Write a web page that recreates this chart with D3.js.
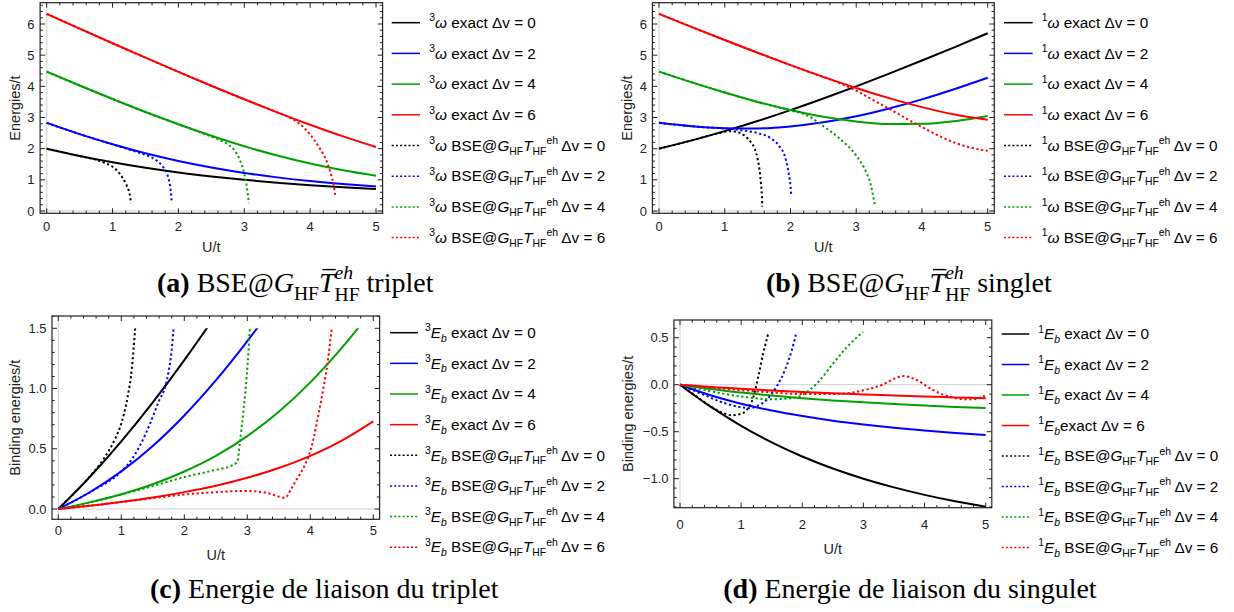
<!DOCTYPE html>
<html><head><meta charset="utf-8">
<script src="https://cdn.jsdelivr.net/npm/d3@7"></script>
<style>body{margin:0;background:#fff} svg text{white-space:pre}</style>
</head><body>
<svg id="chart" width="1234" height="612"></svg>
<script>
// ---------------- DATA ----------------
const dvValues = ["0", "2", "4", "6"];
const seriesColors = ["#000000", "#0000ff", "#00a000", "#ff0000"];
const U = [0, 0.5, 1, 1.5, 2, 2.5, 3, 3.5, 4, 4.5, 5];

// (a) triplet excitation energies, exact
const tripExact0 = [2.0, 1.766, 1.562, 1.386, 1.236, 1.109, 1.0, 0.908, 0.828, 0.760, 0.702];
const tripExact2 = [2.828, 2.467, 2.140, 1.851, 1.604, 1.395, 1.221, 1.079, 0.961, 0.865, 0.785];
const tripExact4 = [4.472, 4.027, 3.595, 3.178, 2.783, 2.413, 2.077, 1.779, 1.523, 1.309, 1.134];
const tripExact6 = [6.325, 5.852, 5.383, 4.920, 4.465, 4.018, 3.584, 3.165, 2.766, 2.393, 2.053];
// (a) triplet BSE
const tripBSE0U = [0, 0.25, 0.5, 0.75, 0.9, 1.0, 1.1, 1.2, 1.25, 1.27, 1.28];
const tripBSE0 = [2.0, 1.88, 1.766, 1.64, 1.53, 1.42, 1.22, 0.88, 0.62, 0.42, 0.25];
const tripBSE2U = [0, 0.5, 1.0, 1.3, 1.5, 1.65, 1.75, 1.82, 1.86, 1.885, 1.9];
const tripBSE2 = [2.828, 2.467, 2.14, 1.94, 1.80, 1.65, 1.46, 1.22, 0.96, 0.62, 0.26];
const tripBSE4U = [0, 0.5, 1, 1.5, 2, 2.4, 2.6, 2.75, 2.85, 2.93, 3.0, 3.04, 3.07];
const tripBSE4 = [4.472, 4.027, 3.595, 3.178, 2.783, 2.47, 2.30, 2.14, 1.95, 1.65, 1.2, 0.75, 0.25];
const tripBSE6U = [0, 1, 2, 3, 3.5, 3.7, 3.85, 4.0, 4.15, 4.25, 4.32, 4.36, 4.385];
const tripBSE6 = [6.325, 5.383, 4.465, 3.584, 3.165, 2.99, 2.78, 2.45, 2.0, 1.6, 1.15, 0.8, 0.45];

// (b) singlet excitation energies, exact
const singExact0 = [2.0, 2.266, 2.562, 2.886, 3.236, 3.609, 4.0, 4.408, 4.828, 5.260, 5.702];
const singExact2 = [2.828, 2.718, 2.654, 2.649, 2.714, 2.845, 3.038, 3.289, 3.582, 3.915, 4.277];
const singExact4 = [4.472, 4.128, 3.802, 3.500, 3.238, 3.021, 2.870, 2.792, 2.796, 2.883, 3.045];
const singExact6 = [6.325, 5.902, 5.485, 5.077, 4.682, 4.303, 3.947, 3.621, 3.333, 3.096, 2.925];
// (b) singlet BSE
const singBSE0U = [0, 0.5, 0.8, 1.0, 1.1, 1.2, 1.3, 1.4, 1.46, 1.5, 1.53, 1.55, 1.565, 1.572];
const singBSE0 = [2.0, 2.266, 2.44, 2.54, 2.56, 2.53, 2.42, 2.2, 1.98, 1.68, 1.3, 0.9, 0.5, 0.14];
const singBSE2U = [0, 0.5, 1.0, 1.25, 1.5, 1.7, 1.83, 1.92, 1.97, 2.0, 2.012];
const singBSE2 = [2.828, 2.718, 2.645, 2.59, 2.5, 2.33, 2.08, 1.72, 1.25, 0.8, 0.48];
const singBSE4U = [0, 1, 1.5, 2.0, 2.25, 2.5, 2.75, 3.0, 3.15, 3.22, 3.26, 3.28];
const singBSE4 = [4.472, 3.802, 3.5, 3.225, 3.07, 2.72, 2.32, 1.78, 1.25, 0.85, 0.45, 0.22];
const singBSE6U = [0, 1, 2, 2.5, 2.75, 3.0, 3.25, 3.5, 3.75, 4.0, 4.25, 4.5, 4.75, 5.0];
const singBSE6 = [6.325, 5.485, 4.682, 4.30, 4.10, 3.86, 3.57, 3.28, 2.98, 2.69, 2.42, 2.19, 2.03, 1.93];

// (c) triplet binding energies, exact
const tripEb0 = [0, 0.266, 0.562, 0.886, 1.236, 1.609, 2.0, 2.408, 2.828, 3.260, 3.702];
const tripEb2 = [0, 0.139, 0.312, 0.523, 0.776, 1.067, 1.393, 1.751, 2.133, 2.537, 2.957];
const tripEb4 = [0, 0.055, 0.123, 0.206, 0.311, 0.441, 0.605, 0.807, 1.051, 1.337, 1.662];
const tripEb6 = [0, 0.027, 0.058, 0.095, 0.140, 0.193, 0.259, 0.340, 0.441, 0.568, 0.728];
// (c) triplet binding energies, BSE
const tripEbBSE0U = [0, 0.25, 0.5, 0.75, 0.9, 1.0, 1.1, 1.17, 1.22];
const tripEbBSE0 = [0, 0.13, 0.27, 0.44, 0.58, 0.71, 0.93, 1.18, 1.5];
const tripEbBSE2U = [0, 0.5, 1.0, 1.15, 1.3, 1.45, 1.6, 1.7, 1.75, 1.8, 1.83];
const tripEbBSE2 = [0, 0.139, 0.312, 0.40, 0.53, 0.70, 0.90, 1.02, 1.14, 1.32, 1.5];
const tripEbBSE4U = [0, 0.5, 1.0, 1.5, 2.0, 2.5, 2.75, 2.84, 2.88, 2.94, 2.99, 3.02, 3.04];
const tripEbBSE4 = [0, 0.055, 0.12, 0.19, 0.265, 0.325, 0.36, 0.39, 0.545, 0.82, 1.10, 1.32, 1.5];
const tripEbBSE6U = [0, 0.5, 1, 1.5, 2, 2.5, 3, 3.3, 3.6, 3.7, 3.8, 3.9, 3.97, 4.05, 4.12, 4.2, 4.27, 4.34];
const tripEbBSE6 = [0, 0.027, 0.058, 0.09, 0.12, 0.14, 0.15, 0.135, 0.094, 0.17, 0.26, 0.35, 0.435, 0.58, 0.76, 0.98, 1.2, 1.5];

// (d) singlet binding energies, exact
const singEb0 = [0, -0.234, -0.438, -0.614, -0.764, -0.892, -1.0, -1.092, -1.172, -1.240, -1.298];
const singEb2 = [0, -0.112, -0.202, -0.275, -0.334, -0.383, -0.424, -0.459, -0.488, -0.513, -0.535];
const singEb4 = [0, -0.046, -0.084, -0.116, -0.144, -0.167, -0.188, -0.206, -0.222, -0.237, -0.249];
const singEb6 = [0, -0.024, -0.044, -0.062, -0.078, -0.092, -0.104, -0.116, -0.126, -0.135, -0.144];
// (d) singlet binding energies, BSE
const singEbBSE0U = [0, 0.3, 0.5, 0.7, 0.85, 1.0, 1.09, 1.2, 1.28, 1.36, 1.445];
const singEbBSE0 = [0, -0.14, -0.23, -0.30, -0.325, -0.31, -0.27, -0.13, 0.085, 0.33, 0.55];
const singEbBSE2U = [0, 0.4, 0.7, 1.0, 1.15, 1.25, 1.42, 1.58, 1.72, 1.83, 1.9];
const singEbBSE2 = [0, -0.11, -0.19, -0.24, -0.25, -0.23, -0.16, -0.02, 0.16, 0.37, 0.545];
const singEbBSE4U = [0, 0.5, 1.0, 1.5, 1.8, 2.0, 2.12, 2.24, 2.51, 2.73, 2.99];
const singEbBSE4 = [0, -0.07, -0.125, -0.155, -0.145, -0.11, -0.055, 0.014, 0.23, 0.40, 0.56];
const singEbBSE6U = [0, 0.5, 1.0, 1.5, 2.0, 2.5, 2.8, 3.0, 3.15, 3.33, 3.49, 3.66, 3.87, 4.14, 4.47, 4.74, 4.88, 4.95, 5.0];
const singEbBSE6 = [0, -0.03, -0.058, -0.083, -0.1, -0.1, -0.085, -0.06, -0.035, 0.005, 0.06, 0.092, 0.05, -0.057, -0.138, -0.156, -0.145, -0.12, -0.13];

// tick labels
const xTickLabels = ["0", "1", "2", "3", "4", "5"];
const yTickLabelsAB = ["0", "1", "2", "3", "4", "5", "6"];
const yTickLabelsC = ["0.0", "0.5", "1.0", "1.5"];
const yTickLabelsD = ["\u22121.0", "\u22120.5", "0.0", "0.5"];

// captions
const captionTexts = ["triplet", "singlet", "Energie de liaison du triplet", "Energie de liaison du singulet"];

// ---------------- DRAWING ----------------
const SANS = "'Liberation Sans', Arial, sans-serif";
const SERIF = "'Liberation Serif', 'Times New Roman', serif";
const svg = d3.select("#chart");

function layoutRuns(g, runs, fs, family) {
  let cx = 0, stackW = 0;
  runs.forEach(r => {
    const size = fs * (r.s || 1);
    const t = g.append("text").attr("x", cx).attr("y", (r.dy || 0) * fs)
      .attr("font-size", size).attr("font-family", family)
      .style("font-style", r.it ? "italic" : "normal")
      .style("font-weight", r.b ? "bold" : "normal")
      .attr("fill", "#000").text(r.t);
    const w = t.node().getComputedTextLength();
    if (r.over) {
      g.append("line").attr("x1", cx + w * 0.22).attr("x2", cx + w * 1.08)
        .attr("y1", -size * 0.8).attr("y2", -size * 0.8)
        .attr("stroke", "#000").attr("stroke-width", size * 0.05);
    }
    if (r.stack) { stackW = w; }
    else { cx += Math.max(w, stackW); stackW = 0; }
  });
  return cx;
}

const panels = [
  { // (a)
    xr: [46.7, 376], yd: [0, 6], yr: [211, 24], frame: {l: 40.1, r: 382.6, t: 2.7, b: 213.3},
    yMinor: 0.2, yMajor: 1, yTicks: [0, 1, 2, 3, 4, 5, 6], yLabels: yTickLabelsAB,
    ylab: "Energies/t", ylabX: 15, xlabY: 251.5, xTickY: 231, yTickX: 34.5,
    exact: [tripExact0, tripExact2, tripExact4, tripExact6].map(v => [U, v]),
    bse: [[tripBSE0U, tripBSE0], [tripBSE2U, tripBSE2], [tripBSE4U, tripBSE4], [tripBSE6U, tripBSE6]],
    clipTop: null,
    legend: {x1: 391.7, x2: 420, tx: 429.3, y0: 22.7, step: 30.7, spin: "3", sym: "w"}
  },
  { // (b)
    xr: [659, 987.7], yd: [0, 6], yr: [211, 24], frame: {l: 652.4, r: 994.3, t: 2.7, b: 213.3},
    yMinor: 0.2, yMajor: 1, yTicks: [0, 1, 2, 3, 4, 5, 6], yLabels: yTickLabelsAB,
    ylab: "Energies/t", ylabX: 626.7, xlabY: 251.5, xTickY: 231, yTickX: 647,
    exact: [singExact0, singExact2, singExact4, singExact6].map(v => [U, v]),
    bse: [[singBSE0U, singBSE0], [singBSE2U, singBSE2], [singBSE4U, singBSE4], [singBSE6U, singBSE6]],
    clipTop: null,
    legend: {x1: 1004, x2: 1032.7, tx: 1041.7, y0: 22.7, step: 30.7, spin: "1", sym: "w"}
  },
  { // (c)
    xr: [58.3, 373.3], yd: [0, 1.5], yr: [509, 328.3], frame: {l: 52, r: 379.6, t: 316, b: 519.3},
    yMinor: 0.1, yMajor: 0.5, yTicks: [0, 0.5, 1, 1.5], yLabels: yTickLabelsC,
    ylab: "Binding energies/t", ylabX: 15, xlabY: 559.5, xTickY: 535, yTickX: 46.5,
    exact: [tripEb0, tripEb2, tripEb4, tripEb6].map(v => [U, v]),
    bse: [[tripEbBSE0U, tripEbBSE0], [tripEbBSE2U, tripEbBSE2], [tripEbBSE4U, tripEbBSE4], [tripEbBSE6U, tripEbBSE6]],
    clipTop: 1.5,
    legend: {x1: 390, x2: 418, tx: 425, y0: 332.7, step: 30.65, spin: "3", sym: "E"}
  },
  { // (d)
    xr: [680, 985.7], yd: [0, 0.5], yr: [384.7, 337.7], frame: {l: 673.9, r: 991.8, t: 320, b: 507.7},
    yMinor: 0.1, yMajor: 0.5, yTicks: [-1, -0.5, 0, 0.5], yLabels: yTickLabelsD,
    ylab: "Binding energies/t", ylabX: 628.3, xlabY: 553.5, xTickY: 529, yTickX: 668.5,
    exact: [singEb0, singEb2, singEb4, singEb6].map(v => [U, v]),
    bse: [[singEbBSE0U, singEbBSE0], [singEbBSE2U, singEbBSE2], [singEbBSE4U, singEbBSE4], [singEbBSE6U, singEbBSE6]],
    clipTop: null,
    legend: {x1: 1001.7, x2: 1029.3, tx: 1038.3, y0: 334, step: 30.5, spin: "1", sym: "E", noSpaceLast: true}
  }
];

panels.forEach((p, pi) => {
  const xs = d3.scaleLinear().domain([0, 5]).range(p.xr);
  const ys = d3.scaleLinear().domain(p.yd).range(p.yr);
  const f = p.frame;
  const g = svg.append("g");

  // gray axes
  g.append("line").attr("x1", f.l).attr("x2", f.r).attr("y1", ys(0)).attr("y2", ys(0))
    .attr("stroke", "#d0d0d0").attr("stroke-width", 1);
  g.append("line").attr("x1", xs(0)).attr("x2", xs(0)).attr("y1", f.t).attr("y2", f.b)
    .attr("stroke", "#d0d0d0").attr("stroke-width", 1);

  // clip
  const cid = "clip" + pi;
  const topPx = p.clipTop != null ? ys(p.clipTop) : f.t;
  svg.append("clipPath").attr("id", cid).append("rect")
    .attr("x", f.l).attr("y", topPx).attr("width", f.r - f.l).attr("height", f.b - topPx);
  const plot = g.append("g").attr("clip-path", `url(#${cid})`);
  const line = d3.line().x(d => xs(d[0])).y(d => ys(d[1])).curve(d3.curveMonotoneX);

  p.exact.forEach((s, i) => {
    plot.append("path").datum(s[0].map((u, k) => [u, s[1][k]]))
      .attr("d", line).attr("fill", "none").attr("stroke", seriesColors[i]).attr("stroke-width", 2);
  });
  p.bse.forEach((s, i) => {
    plot.append("path").datum(s[0].map((u, k) => [u, s[1][k]]))
      .attr("d", line).attr("fill", "none").attr("stroke", seriesColors[i]).attr("stroke-width", 2)
      .attr("stroke-dasharray", "2.2,2.6");
  });

  // frame
  g.append("rect").attr("x", f.l).attr("y", f.t).attr("width", f.r - f.l).attr("height", f.b - f.t)
    .attr("fill", "none").attr("stroke", "#222").attr("stroke-width", 1.2);

  const tk = g.append("g").attr("stroke", "#222").attr("stroke-width", 1);
  const xMin = xs.invert(f.l), xMax = xs.invert(f.r);
  for (let k = Math.ceil(xMin / 0.2 - 1e-9); k * 0.2 <= xMax + 1e-9; k++) {
    const v = k * 0.2, major = Math.abs(v - Math.round(v)) < 1e-6, len = major ? 5 : 2.7, px = xs(v);
    tk.append("line").attr("x1", px).attr("x2", px).attr("y1", f.b).attr("y2", f.b - len);
    tk.append("line").attr("x1", px).attr("x2", px).attr("y1", f.t).attr("y2", f.t + len);
  }
  const yMin = ys.invert(f.b), yMax = ys.invert(f.t);
  for (let k = Math.ceil(yMin / p.yMinor - 1e-9); k * p.yMinor <= yMax + 1e-9; k++) {
    const v = k * p.yMinor, r = v / p.yMajor, major = Math.abs(r - Math.round(r)) < 1e-6;
    const len = major ? 5 : 2.7, py = ys(v);
    tk.append("line").attr("x1", f.l).attr("x2", f.l + len).attr("y1", py).attr("y2", py);
    tk.append("line").attr("x1", f.r).attr("x2", f.r - len).attr("y1", py).attr("y2", py);
  }

  // tick labels
  xTickLabels.forEach((lab, i) => {
    g.append("text").attr("x", xs(i)).attr("y", p.xTickY).attr("text-anchor", "middle")
      .attr("font-family", SANS).attr("font-size", 13).attr("fill", "#222").text(lab);
  });
  p.yTicks.forEach((v, i) => {
    g.append("text").attr("x", p.yTickX).attr("y", ys(v) + 4.6).attr("text-anchor", "end")
      .attr("font-family", SANS).attr("font-size", 13).attr("fill", "#222").text(p.yLabels[i]);
  });

  // axis titles
  g.append("text").attr("x", (f.l + f.r) / 2).attr("y", p.xlabY).attr("text-anchor", "middle")
    .attr("font-family", SANS).attr("font-size", 14.5).attr("fill", "#222").text("U/t");
  g.append("text").attr("transform", `translate(${p.ylabX + 5},${(f.t + f.b) / 2}) rotate(-90)`)
    .attr("text-anchor", "middle").attr("font-family", SANS).attr("font-size", 14.5)
    .attr("fill", "#222").text(p.ylab);

  // legend
  const L = p.legend;
  for (let j = 0; j < 8; j++) {
    const yc = L.y0 + j * L.step;
    const ci = j % 4, isBSE = j >= 4;
    const ln = g.append("line").attr("x1", L.x1).attr("x2", L.x2).attr("y1", yc).attr("y2", yc)
      .attr("stroke", seriesColors[ci]).attr("stroke-width", 1.5);
    if (isBSE) ln.attr("stroke-dasharray", "2,2.2");
    const runs = [{t: L.spin, s: 0.68, dy: -0.42}];
    if (L.sym === "w") runs.push({t: "\u03c9", it: true});
    else { runs.push({t: "E", it: true}); runs.push({t: "b", it: true, s: 0.68, dy: 0.25}); }
    if (!isBSE) {
      const sp = (L.noSpaceLast && j === 3) ? "" : " ";
      runs.push({t: sp + "exact \u0394v = " + dvValues[ci]});
    } else {
      runs.push({t: " BSE@"}, {t: "G", it: true}, {t: "HF", s: 0.68, dy: 0.25},
        {t: "T", it: true}, {t: "HF", s: 0.68, dy: 0.25}, {t: "eh", s: 0.68, dy: -0.42},
        {t: " \u0394v = " + dvValues[ci]});
    }
    const lg = g.append("g").attr("transform", `translate(${L.tx},${yc + 5.2})`);
    layoutRuns(lg, runs, 15.3, SANS);
  }
});

// ---------------- CAPTIONS ----------------
function captionRuns(i) {
  const lab = ["(a)", "(b)", "(c)", "(d)"][i];
  if (i < 2) {
    return [{t: lab, b: true}, {t: " BSE@"}, {t: "G", it: true}, {t: "HF", s: 0.7, dy: 0.28},
      {t: "T", it: true, over: true}, {t: "eh", it: true, s: 0.7, dy: -0.45, stack: true},
      {t: "HF", s: 0.7, dy: 0.33}, {t: " " + captionTexts[i]}];
  }
  return [{t: lab, b: true}, {t: " " + captionTexts[i]}];
}
// font size chosen so caption (d) spans its measured width
const probe = svg.append("g");
const wd = layoutRuns(probe, captionRuns(3), 20, SERIF);
probe.remove();
const capFs = 20 * 373.5 / wd;
const capPos = [[157, 292], [766, 292], [150, 598.3], [723.3, 598.3]];
capPos.forEach((pos, i) => {
  const cg = svg.append("g").attr("transform", `translate(${pos[0]},${pos[1]})`);
  layoutRuns(cg, captionRuns(i), capFs, SERIF);
});
</script>
</body></html>
